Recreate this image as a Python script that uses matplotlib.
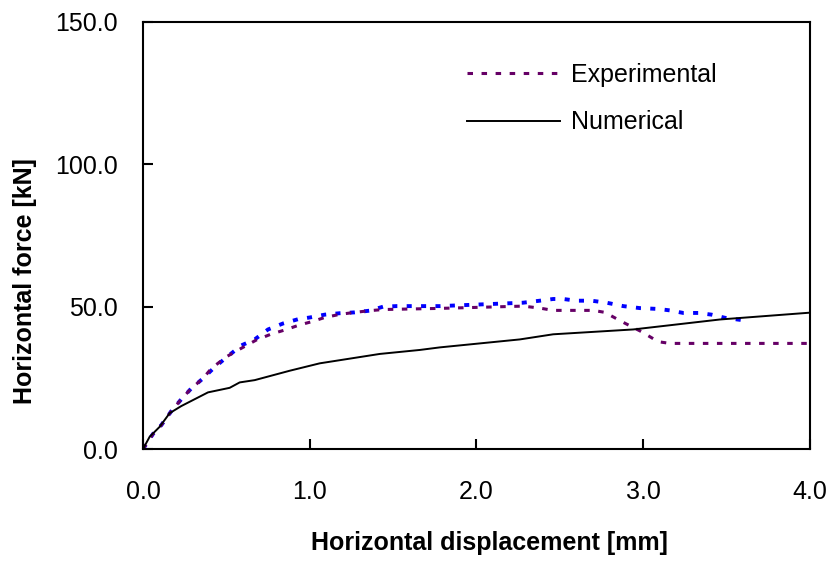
from matplotlib import pyplot as plt

# Numerical (FE) curve
num_x = [0.0, 0.04, 0.10, 0.16, 0.23, 0.39, 0.52, 0.58, 0.67, 0.88, 1.06, 1.42, 1.66,
         1.78, 2.26, 2.46, 2.94, 3.46, 4.0]
num_y = [0.0, 4.3, 7.8, 12.6, 15.1, 19.9, 21.5, 23.4, 24.2, 27.5, 30.1, 33.4, 34.8,
         35.7, 38.5, 40.3, 42.0, 45.5, 47.9]

# Experimental test 1 (purple, in legend)
exp_x = [0.0, 0.06, 0.11, 0.17, 0.23, 0.29, 0.36, 0.41, 0.50, 0.59, 0.68, 0.77, 0.85,
         0.94, 1.01, 1.09, 1.18, 1.27, 1.36, 1.44, 1.78, 2.28, 2.38, 2.46, 2.70,
         2.77, 2.87, 2.99, 3.09, 3.16, 4.0]
exp_y = [0.0, 5.3, 8.4, 13.3, 17.5, 21.3, 24.8, 28.3, 32.4, 35.4, 38.3, 40.4, 41.8,
         43.6, 44.7, 46.2, 47.3, 48.0, 48.6, 49.0, 49.4, 50.2, 49.5, 48.7, 48.7,
         48.0, 44.8, 41.2, 37.7, 37.1, 37.1]

# Experimental test 2 (blue, not in legend)
exp2_x = [0.0, 0.06, 0.11, 0.17, 0.23, 0.29, 0.36, 0.42, 0.49, 0.59, 0.67, 0.75, 0.84,
          0.93, 1.00, 1.09, 1.18, 1.27, 1.36, 1.44, 1.52, 1.78, 2.28, 2.38, 2.46,
          2.52, 2.60, 2.69, 2.78, 2.88, 2.98, 3.09, 3.16, 3.24, 3.33, 3.41, 3.49, 3.59]
exp2_y = [0.0, 5.3, 8.4, 13.3, 17.5, 21.3, 24.8, 28.2, 31.7, 36.4, 38.5, 42.0, 44.1,
          45.6, 46.2, 47.2, 47.7, 48.0, 48.6, 50.0, 50.2, 50.2, 51.4, 52.1, 52.7,
          52.7, 52.1, 52.1, 51.4, 50.2, 49.5, 49.2, 48.7, 47.8, 47.8, 47.2, 46.1, 45.3]

x_ticks = [0, 1, 2, 3, 4]
y_ticks = [0, 50, 100, 150]


def main():
    plt.rcParams['font.family'] = ['Liberation Sans', 'DejaVu Sans']
    fig = plt.figure(figsize=(8.26, 5.61), dpi=100)
    ax = fig.add_axes([0.1731, 0.1996, 0.8075, 0.7612])

    ax.plot(exp2_x, exp2_y, color="#0000FF", linewidth=2.8, dashes=(1.3, 2.4),
            label="_nolegend_")
    ax.plot(exp_x, exp_y, color="#660066", linewidth=2.2, dashes=(1.8, 2.8),
            label="Experimental")
    ax.plot(num_x, num_y, color="black", linewidth=1.4, label="Numerical")

    ax.set_xlim(0, 4)
    ax.set_ylim(0, 150)
    ax.set_xticks(x_ticks)
    ax.set_yticks(y_ticks)
    ax.set_xticklabels(["%.1f" % v for v in x_ticks])
    ax.set_yticklabels(["%.1f" % v for v in y_ticks])
    ax.tick_params(axis="x", direction="in", length=7, width=1.5, pad=22, labelsize=18)
    ax.tick_params(axis="y", direction="in", length=7, width=1.5, pad=18, labelsize=18)
    for s in ax.spines.values():
        s.set_linewidth(1.5)

    ax.legend(loc="upper left", bbox_to_anchor=(0.486, 0.905), frameon=False,
              fontsize=18, handlelength=3.7, handletextpad=0.45,
              labelspacing=0.95, borderpad=0, borderaxespad=0)

    fig.text(489 / 826, 1 - 543 / 561, "Horizontal displacement [mm]",
             ha="center", va="center", fontsize=18, fontweight="bold")
    fig.text(25 / 826, 1 - 281 / 561, "Horizontal force [kN]", rotation=90,
             ha="center", va="center", fontsize=18, fontweight="bold")

    fig.savefig("out.png", dpi=100)
    plt.close()


if __name__ == "__main__":
    main()
